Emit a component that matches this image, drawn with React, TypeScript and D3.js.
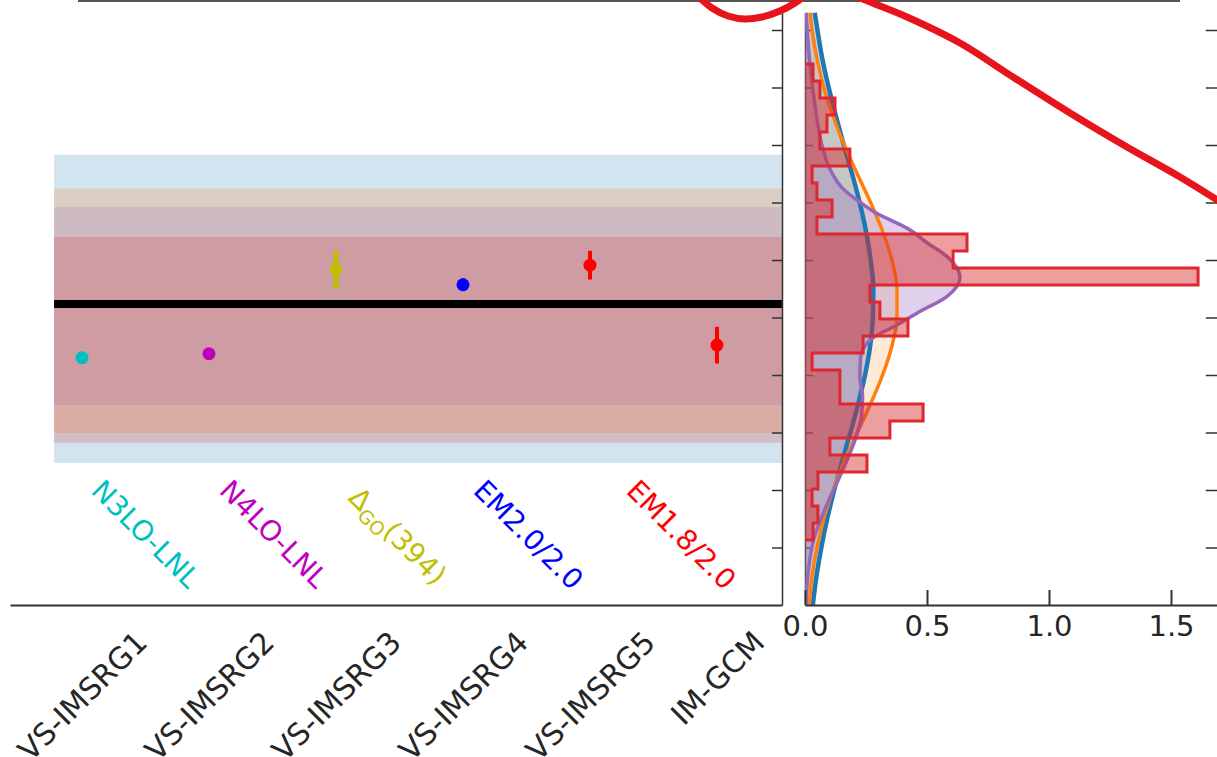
import React, { useEffect, useRef } from 'react';
import * as d3 from 'd3';

// ---------- data ----------
const methods = ['VS-IMSRG1', 'VS-IMSRG2', 'VS-IMSRG3', 'VS-IMSRG4', 'VS-IMSRG5', 'IM-GCM'];
const interactions = ['N3LO-LNL', 'N4LO-LNL', 'ΔGO(394)', 'EM2.0/2.0', 'EM1.8/2.0'];
const pointColors = ['#00bfbf', '#bf00bf', '#bfbf00', '#0000ff', '#ff0000', '#ff0000'];
const pointValues = [4.30, 4.37, 5.83, 5.57, 5.91, 4.52];
const pointErrors = [0.04, 0.04, 0.33, 0.11, 0.25, 0.32];
const meanValue = 5.235;

// uncertainty bands (blue, orange, purple, red)
const bandColors = ['#1f77b4', '#ff7f0e', '#9467bd', '#d62728'];
const bandLow = [2.47, 2.99, 3.48, 2.82];
const bandHigh = [7.83, 7.24, 6.92, 6.40];

// histogram (horizontal), bins from the bottom up
const binStart = 1.13;
const binWidth = 0.2957;
const histDensity = [0.033, 0.053, 0.029, 0.053, 0.254, 0.102, 0.348, 0.484, 0.143, 0.143,
  0.029, 0.238, 0.422, 0.307, 0.266, 1.611, 0.607, 0.664, 0.049, 0.111,
  0.049, 0.029, 0.184, 0.061, 0.090, 0.123, 0.061, 0.033];

// smooth density curves
const kdeLevels = [0, 0.5, 1, 1.5, 2, 2.5, 3, 3.5, 4, 4.5, 5, 5.5, 6, 6.5, 7, 7.5, 8, 8.5, 9, 9.5, 10, 10.3];
const blueDensity = [0.032, 0.047, 0.067, 0.091, 0.120, 0.152, 0.186, 0.218, 0.246, 0.267, 0.278,
  0.280, 0.269, 0.250, 0.224, 0.193, 0.159, 0.127, 0.097, 0.071, 0.051, 0.040];
const orangeDensity = [0.017, 0.029, 0.049, 0.077, 0.115, 0.161, 0.214, 0.269, 0.318, 0.356, 0.377,
  0.377, 0.356, 0.318, 0.269, 0.214, 0.161, 0.115, 0.077, 0.049, 0.029, 0.021];
const purpleLevels = [0, 0.61, 1.13, 1.7, 2.4, 2.87, 3.3, 3.62, 3.97, 4.31, 4.66, 4.83, 5.08, 5.36,
  5.70, 6.05, 6.3, 6.55, 6.82, 6.96, 7.22, 7.6, 7.91, 8.78, 9.65, 10.3];
const purpleDensity = [0.004, 0.014, 0.035, 0.085, 0.160, 0.205, 0.232, 0.236, 0.225, 0.228, 0.282,
  0.36, 0.46, 0.58, 0.635, 0.585, 0.50, 0.42, 0.29, 0.24, 0.16, 0.10, 0.075, 0.038, 0.015, 0.005];

const yTicks = [1, 2, 3, 4, 5, 6, 7, 8, 9, 10];
const xTicksRight = [0, 0.5, 1.0, 1.5];

// hand-drawn red annotation on top of the figure (screen pixels)
const scribbleA = [[700, -2], [712, 8], [728, 16], [745, 19], [762, 17], [780, 11], [795, 3], [803, -3]];
const scribbleB = [[858, -3], [875, 4], [907, 17], [960, 43], [1013, 77], [1070, 113], [1127, 147], [1180, 177], [1222, 203]];

export default function App() {
  const ref = useRef<SVGSVGElement>(null);
  const width = 1217;
  const height = 757;

  useEffect(() => {
    const svg = d3.select(ref.current);
    svg.selectAll('*').remove();
    const font = 'DejaVu Sans, sans-serif';

    // scales
    const y = d3.scaleLinear().domain([0, 10.3]).range([605, 12.75]);
    const xl = d3.scaleLinear().domain([-0.567, 5.512]).range([10, 782]);
    const xr = d3.scaleLinear().domain([0, 1.7]).range([805, 1219.8]);

    const defs = svg.append('defs');
    defs.append('clipPath').attr('id', 'clipL')
      .append('rect').attr('x', 10).attr('y', 12).attr('width', 772).attr('height', 593);
    defs.append('clipPath').attr('id', 'clipR')
      .append('rect').attr('x', 805).attr('y', 12).attr('width', 412).attr('height', 593);

    // top border line (cut-off panel above)
    svg.append('line')
      .attr('x1', 78).attr('x2', 1180).attr('y1', 1).attr('y2', 1)
      .attr('stroke', '#555').attr('stroke-width', 2);

    //----------- left panel --------------------------//
    const gl = svg.append('g').attr('clip-path', 'url(#clipL)');
    bandColors.forEach((c, i) => {
      gl.append('rect')
        .attr('x', xl(-0.22)).attr('width', xl(5.6) - xl(-0.22))
        .attr('y', y(bandHigh[i])).attr('height', y(bandLow[i]) - y(bandHigh[i]))
        .attr('fill', c).attr('fill-opacity', 0.2);
    });
    gl.append('line')
      .attr('x1', xl(-0.22)).attr('x2', xl(5.6))
      .attr('y1', y(meanValue)).attr('y2', y(meanValue))
      .attr('stroke', '#000').attr('stroke-width', 8);

    pointValues.forEach((v, i) => {
      gl.append('line')
        .attr('x1', xl(i)).attr('x2', xl(i))
        .attr('y1', y(v - pointErrors[i])).attr('y2', y(v + pointErrors[i]))
        .attr('stroke', pointColors[i]).attr('stroke-width', i === 2 ? 5 : 4);
      gl.append('circle')
        .attr('cx', xl(i)).attr('cy', y(v)).attr('r', 6.5)
        .attr('fill', pointColors[i]);
    });

    // coloured interaction labels
    const labelShift = [8, 9, 11, 9, 35];
    interactions.forEach((t, i) => {
      const px = xl(i) + labelShift[i];
      const py = i === 2 ? 499 : 492;
      const txt = gl.append('text')
        .attr('transform', `translate(${px},${py}) rotate(45)`)
        .attr('font-family', font).attr('font-size', 28)
        .attr('fill', pointColors[i]);
      if (t.startsWith('Δ')) {
        txt.append('tspan').text('Δ');
        txt.append('tspan').attr('font-size', 19).attr('dy', 6).text('GO');
        txt.append('tspan').attr('dy', -6).text('(394)');
      } else {
        txt.text(t);
      }
    });

    // x axis of left panel
    const xAxisL = d3.axisBottom(xl)
      .tickValues(d3.range(methods.length))
      .tickFormat((d) => methods[d as number])
      .tickSize(0).tickSizeOuter(0);
    const gxl = svg.append('g').attr('transform', 'translate(0,605)').call(xAxisL);
    gxl.select('.domain').attr('stroke', '#333').attr('stroke-width', 2);
    gxl.selectAll('.tick text')
      .attr('font-family', font).attr('font-size', 30).attr('fill', '#262626')
      .attr('y', null).attr('dy', null)
      .attr('text-anchor', 'middle').attr('dominant-baseline', 'central')
      .attr('transform', function (this: any) {
        const L = this.getComputedTextLength();
        return `translate(0,${24 + 0.3536 * (L + 22)}) rotate(-45)`;
      });

    // right spine of the left panel
    const yAxisL = d3.axisLeft(y).tickValues(yTicks).tickSize(10).tickSizeOuter(0).tickFormat(() => '');
    const gyl = svg.append('g').attr('transform', 'translate(782,0)').call(yAxisL);
    gyl.selectAll('path,line').attr('stroke', '#333').attr('stroke-width', 1.5);

    //----------- right panel --------------------------//
    const yAxisR0 = d3.axisRight(y).tickValues(yTicks).tickSize(8).tickSizeOuter(0).tickFormat(() => '');
    const gyr0 = svg.append('g').attr('transform', 'translate(805,0)').call(yAxisR0);
    gyr0.selectAll('path,line').attr('stroke', '#333').attr('stroke-width', 1.5);

    const gr = svg.append('g').attr('clip-path', 'url(#clipR)');

    const curves = [
      { lv: kdeLevels, dens: blueDensity, color: '#1f77b4', w: 4.5, a: 0.3 },
      { lv: kdeLevels, dens: orangeDensity, color: '#ff7f0e', w: 3.5, a: 0.16 },
      { lv: purpleLevels, dens: purpleDensity, color: '#9467bd', w: 3.5, a: 0.3 },
    ];
    curves.forEach((c) => {
      const pts = c.lv.map((v, i) => ({ v, d: c.dens[i] }));
      const area = d3.area<{ v: number; d: number }>()
        .y((p) => y(p.v)).x0(xr(0)).x1((p) => xr(p.d))
        .curve(d3.curveMonotoneY);
      gr.append('path').attr('d', area(pts)!)
        .attr('fill', c.color).attr('fill-opacity', c.a);
    });
    curves.forEach((c) => {
      const pts = c.lv.map((v, i) => ({ v, d: c.dens[i] }));
      const line = d3.line<{ v: number; d: number }>()
        .y((p) => y(p.v)).x((p) => xr(p.d))
        .curve(d3.curveMonotoneY);
      gr.append('path').attr('d', line(pts)!)
        .attr('fill', 'none').attr('stroke', c.color).attr('stroke-width', c.w);
    });

    // step histogram
    const steps: [number, number][] = [[0, binStart]];
    histDensity.forEach((d, i) => {
      steps.push([d, binStart + i * binWidth]);
      steps.push([d, binStart + (i + 1) * binWidth]);
    });
    steps.push([0, binStart + histDensity.length * binWidth]);
    const histLine = d3.line<[number, number]>().x((p) => xr(p[0])).y((p) => y(p[1]));
    gr.append('path').attr('d', histLine(steps)!)
      .attr('fill', '#d62728').attr('fill-opacity', 0.45)
      .attr('stroke', '#de2730').attr('stroke-width', 3).attr('stroke-linejoin', 'miter');

    // right spine (just beyond the picture) with inward ticks
    const yAxisR1 = d3.axisLeft(y).tickValues(yTicks).tickSize(14).tickSizeOuter(0).tickFormat(() => '');
    const gyr1 = svg.append('g').attr('transform', `translate(${xr(1.7)},0)`).call(yAxisR1);
    gyr1.selectAll('path,line').attr('stroke', '#333').attr('stroke-width', 1.5);

    const xAxisR = d3.axisBottom(xr).tickValues(xTicksRight)
      .tickFormat(d3.format('.1f') as any).tickSize(-15).tickSizeOuter(0);
    const gxr = svg.append('g').attr('transform', 'translate(0,605)').call(xAxisR);
    gxr.selectAll('path,line').attr('stroke', '#333').attr('stroke-width', 2);
    gxr.selectAll('.tick text')
      .attr('font-family', font).attr('font-size', 29).attr('fill', '#262626')
      .attr('y', 10).attr('dy', '0.71em');

    //----------- red hand-drawn annotation --------------------------//
    const scribble = d3.line().curve(d3.curveCatmullRom);
    [scribbleA, scribbleB].forEach((s) => {
      svg.append('path').attr('d', scribble(s as [number, number][])!)
        .attr('fill', 'none').attr('stroke', '#e8141c')
        .attr('stroke-width', 7).attr('stroke-linecap', 'round');
    });
  }, []);

  return (
    <svg
      ref={ref}
      width={width}
      height={height}
      style={{ position: 'absolute', left: 0, top: 0, background: '#fff' }}
    />
  );
}
